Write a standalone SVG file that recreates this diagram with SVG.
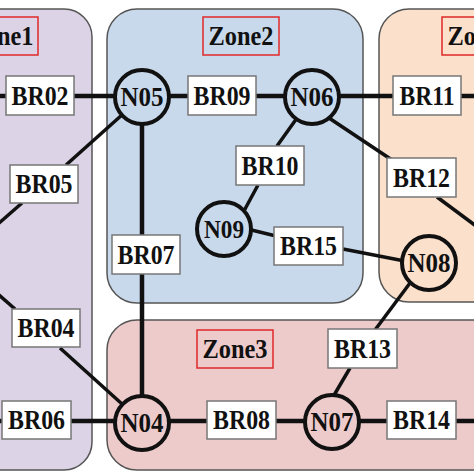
<svg xmlns="http://www.w3.org/2000/svg" width="474" height="474" viewBox="0 0 474 474">
<style>
.zone{stroke:#555;stroke-width:1.5}
.zl{fill:none;stroke:#E02828;stroke-width:1.5}
.t{font-family:"Liberation Serif","Times New Roman",serif;font-weight:bold;font-size:27px;fill:#111;text-anchor:middle}
.br{fill:#fff;stroke:#777;stroke-width:1.5}
.nd{stroke:#111;stroke-width:4}
.h{stroke:#111;stroke-width:4.5;fill:none}
.d{stroke:#111;stroke-width:3.5;fill:none}
</style>
<rect width="474" height="474" fill="#fff"/>
<g id="zone1"><rect class="zone" x="-60" y="9" width="152" height="461" rx="28" fill="#DCD3E6"/><rect class="zl" x="-36" y="17" width="74" height="38"/><text class="t" x="1" y="45" textLength="65" lengthAdjust="spacingAndGlyphs">Zone1</text></g>
<g id="zone2"><rect class="zone" x="107" y="9" width="256" height="294" rx="30" fill="#C9D9EC"/><rect class="zl" x="203" y="17" width="76" height="38"/><text class="t" x="241" y="45" textLength="65" lengthAdjust="spacingAndGlyphs">Zone2</text></g>
<g id="zone4"><rect class="zone" x="379" y="9" width="150" height="293" rx="30" fill="#FBE0CC"/><rect class="zl" x="442" y="17" width="76" height="38"/><text class="t" x="480" y="45" textLength="65" lengthAdjust="spacingAndGlyphs">Zone4</text></g>
<g id="zone3"><rect class="zone" x="107" y="320" width="420" height="150" rx="30" fill="#EECBCB"/><rect class="zl" x="197" y="330" width="76" height="38"/><text class="t" x="235" y="358" textLength="65" lengthAdjust="spacingAndGlyphs">Zone3</text></g>
<g id="connectors">
<path class="h" d="M-5 96H480"/>
<path class="h" d="M-5 421H480"/>
<path class="h" d="M142 97V423"/>
<path class="d" d="M142 97L66 165"/>
<path class="d" d="M22 203L-10 231"/>
<path class="d" d="M312 97L277 146"/>
<path class="d" d="M258 185L238 222"/>
<path class="d" d="M320 112L392 160"/>
<path class="d" d="M437 197L480 229"/>
<path class="d" d="M235 226L276 236"/>
<path class="d" d="M343 249L420 264"/>
<path class="d" d="M416 275L375 330"/>
<path class="d" d="M350 368L330 402"/>
<path class="d" d="M15 309L-10 287"/>
<path class="d" d="M60 348L132 413"/>
</g>
<g id="BR02"><rect class="br" x="6" y="76" width="68" height="39"/><text class="t" x="40" y="105" textLength="57" lengthAdjust="spacingAndGlyphs">BR02</text></g>
<g id="BR09"><rect class="br" x="188" y="76" width="68" height="39"/><text class="t" x="222" y="105" textLength="57" lengthAdjust="spacingAndGlyphs">BR09</text></g>
<g id="BR11"><rect class="br" x="393" y="76" width="68" height="39"/><text class="t" x="427" y="105" textLength="55" lengthAdjust="spacingAndGlyphs">BR11</text></g>
<g id="BR05"><rect class="br" x="10" y="165" width="68" height="38"/><text class="t" x="44" y="193" textLength="57" lengthAdjust="spacingAndGlyphs">BR05</text></g>
<g id="BR10"><rect class="br" x="236" y="146" width="68" height="39"/><text class="t" x="270" y="175" textLength="57" lengthAdjust="spacingAndGlyphs">BR10</text></g>
<g id="BR12"><rect class="br" x="387" y="158" width="69" height="39"/><text class="t" x="421.5" y="187" textLength="57" lengthAdjust="spacingAndGlyphs">BR12</text></g>
<g id="BR07"><rect class="br" x="112" y="235" width="68" height="39"/><text class="t" x="146" y="264" textLength="57" lengthAdjust="spacingAndGlyphs">BR07</text></g>
<g id="BR15"><rect class="br" x="274" y="227" width="69" height="38"/><text class="t" x="308.5" y="255" textLength="57" lengthAdjust="spacingAndGlyphs">BR15</text></g>
<g id="BR04"><rect class="br" x="12" y="309" width="68" height="38"/><text class="t" x="46" y="337" textLength="57" lengthAdjust="spacingAndGlyphs">BR04</text></g>
<g id="BR06"><rect class="br" x="2" y="401" width="69" height="38"/><text class="t" x="36.5" y="429" textLength="57" lengthAdjust="spacingAndGlyphs">BR06</text></g>
<g id="BR08"><rect class="br" x="207" y="401" width="69" height="38"/><text class="t" x="241.5" y="429" textLength="57" lengthAdjust="spacingAndGlyphs">BR08</text></g>
<g id="BR13"><rect class="br" x="328" y="329" width="69" height="39"/><text class="t" x="362.5" y="358" textLength="57" lengthAdjust="spacingAndGlyphs">BR13</text></g>
<g id="BR14"><rect class="br" x="387" y="401" width="69" height="38"/><text class="t" x="421.5" y="429" textLength="57" lengthAdjust="spacingAndGlyphs">BR14</text></g>
<g id="N05"><circle class="nd" cx="142" cy="97" r="27" fill="#C9D9EC"/><text class="t" x="142" y="106" textLength="43" lengthAdjust="spacingAndGlyphs">N05</text></g>
<g id="N06"><circle class="nd" cx="312" cy="97" r="27" fill="#C9D9EC"/><text class="t" x="312" y="106" textLength="43" lengthAdjust="spacingAndGlyphs">N06</text></g>
<g id="N09"><circle class="nd" cx="224" cy="229" r="27" fill="#C9D9EC"/><text class="t" x="224" y="237.5" style="font-size:25px" textLength="40" lengthAdjust="spacingAndGlyphs">N09</text></g>
<g id="N08"><circle class="nd" cx="429" cy="263" r="27" fill="#FBE0CC"/><text class="t" x="429" y="272" textLength="43" lengthAdjust="spacingAndGlyphs">N08</text></g>
<g id="N04"><circle class="nd" cx="142" cy="423" r="27" fill="#EECBCB"/><text class="t" x="142" y="432" textLength="43" lengthAdjust="spacingAndGlyphs">N04</text></g>
<g id="N07"><circle class="nd" cx="332" cy="422" r="27" fill="#EECBCB"/><text class="t" x="332" y="431" textLength="43" lengthAdjust="spacingAndGlyphs">N07</text></g>
</svg>
